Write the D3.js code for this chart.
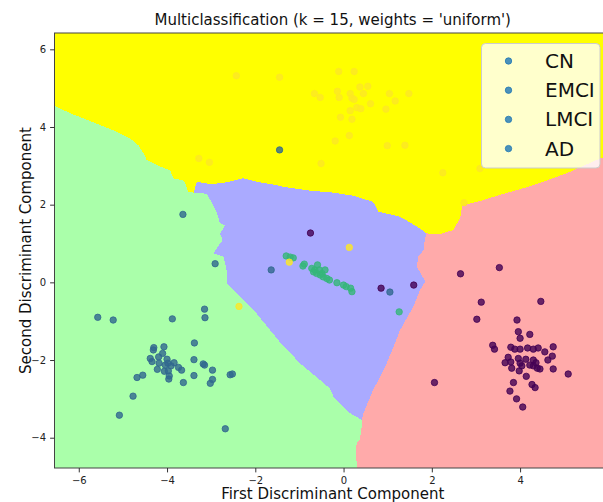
<!DOCTYPE html>
<html>
<head>
<meta charset="utf-8">
<script src="https://cdn.jsdelivr.net/npm/d3@7"></script>
<style>
  html, body { margin: 0; padding: 0; background: #fff; }
  svg { display: block; font-family: "DejaVu Sans", sans-serif; }
  .tick text { font-size: 10px; fill: #222; }
  .tick line { stroke: #333; }
</style>
</head>
<body>
<div id="chart"></div>
<script>
// ── data (discriminant space)
const classes = ['CN', 'EMCI', 'LMCI', 'AD'];
const xTicks = [-6, -4, -2, 0, 2, 4];
const yTicks = [-4, -2, 0, 2, 4, 6];

const cnPoints = [
  [-0.75,1.27],[0.85,-0.15],[1.59,-0.07],[2.65,0.22],[3.53,0.38],[3.12,-0.51],[4.47,-0.49],
  [3.02,-0.95],[3.93,-0.97],[3.96,-1.27],[4.22,-1.34],[4.00,-1.44],[3.38,-1.62],[3.42,-1.72],
  [3.79,-1.67],[3.88,-1.72],[4.00,-1.72],[4.17,-1.69],[4.30,-1.72],[4.41,-1.69],[4.56,-1.79],
  [4.75,-1.66],[4.73,-1.90],[4.63,-2.00],[3.73,-1.93],[3.66,-2.07],[3.79,-2.05],[3.96,-1.96],
  [4.00,-2.08],[4.13,-1.98],[4.30,-2.00],[4.36,-2.07],[4.30,-2.15],[4.39,-2.21],[4.45,-2.23],
  [4.22,-2.13],[3.81,-2.21],[3.98,-2.28],[4.04,-2.15],[4.75,-2.23],[5.09,-2.36],[4.14,-2.42],
  [3.85,-2.58],[4.27,-2.63],[4.34,-2.71],[3.77,-2.80],[3.92,-3.00],[4.06,-3.21],[2.06,-2.58]
];
const emciPoints = [
  [-5.57,-0.90],[-5.22,-0.97],[-3.88,-0.94],[-3.15,-0.69],[-3.14,-0.91],[-3.38,-1.56],
  [-4.30,-1.68],[-4.07,-1.66],[-4.31,-1.74],[-4.10,-1.83],[-4.19,-1.92],[-4.38,-1.96],
  [-4.34,-2.04],[-4.00,-1.98],[-3.98,-2.08],[-3.84,-2.07],[-3.74,-2.19],[-3.67,-2.26],
  [-4.22,-2.24],[-4.06,-2.29],[-3.97,-2.28],[-3.95,-2.41],[-3.96,-2.49],[-4.55,-2.39],
  [-4.68,-2.45],[-3.63,-2.58],[-3.39,-1.99],[-3.18,-2.10],[-3.15,-2.13],[-2.97,-2.26],
  [-3.39,-2.40],[-2.97,-2.50],[-3.02,-2.60],[-2.57,-2.38],[-2.52,-2.36],[-4.77,-2.93],
  [-5.08,-3.42],[-2.68,-3.77],[-4.04,-2.13],[-3.91,-2.15],[-4.18,-2.08],
  [-3.64,1.75],[-2.91,0.48],[-1.45,3.41],[-1.64,0.32],[1.05,-0.25]
];
const lmciPoints = [
  [-1.30,0.68],[-1.21,0.65],[-1.14,0.63],[-0.92,0.42],[-0.89,0.47],[-0.72,0.36],[-0.59,0.45],
  [-0.68,0.27],[-0.61,0.23],[-0.49,0.23],[-0.42,0.32],[-0.53,0.19],[-0.46,0.14],[-0.38,0.10],
  [-0.32,0.06],[-0.15,-0.01],[0.00,-0.07],[0.06,-0.11],[0.16,-0.15],[0.19,-0.24],[-0.65,0.32],
  [-0.55,0.32],[1.26,-0.76]
];
const adPoints = [
  [-2.37,-0.62],[0.13,0.90],[-1.23,0.52],[-0.51,3.06],[2.25,2.82],[3.09,2.93],[2.73,2.05],
  [-2.43,5.32],[-1.45,5.28],[-0.11,5.43],[0.24,5.43],[-0.66,4.86],[-0.53,4.76],[-0.14,4.92],
  [-0.10,4.76],[0.15,4.86],[0.19,4.74],[0.24,4.71],[0.37,5.03],[0.45,4.86],[0.55,5.05],
  [1.04,4.86],[1.48,4.86],[1.17,4.67],[0.61,4.60],[0.15,4.42],[0.30,4.50],[0.39,4.47],
  [0.96,4.46],[-0.07,4.25],[0.19,4.20],[0.13,3.78],[-0.19,3.64],[0.99,3.52],[1.39,3.53],
  [-3.28,3.19],[-3.04,3.09]
];

// decision-region boundaries (kNN, k = 15), in data coordinates
const yellowGreenEdge = [
  [-6.76,4.54],[-6.53,4.54],[-6.19,4.35],[-5.89,4.22],[-5.52,4.05],[-5.14,3.88],[-4.84,3.71],
  [-4.65,3.53],[-4.53,3.32],[-4.46,3.15],[-4.16,2.98],[-3.93,2.89],[-3.86,2.68],[-3.63,2.62],
  [-3.59,2.55],[-3.52,2.33],[-3.40,2.31]
];
const yellowBlueEdge = [
  [-3.40,2.31],[-3.32,2.59],[-3.02,2.53],[-2.72,2.56],[-2.27,2.68],[-1.97,2.59],[-1.51,2.50],
  [-1.36,2.46],[-0.76,2.36],[-0.23,2.31],[0.22,2.23],[0.67,2.07],[0.79,1.82],[1.28,1.69],
  [1.73,1.39],[1.88,1.26]
];
const yellowPinkEdge = [
  [1.88,1.26],[2.19,1.24],[2.49,1.35],[2.64,1.65],[2.69,1.99],[3.02,2.07],[3.54,2.25],
  [4.30,2.50],[5.06,2.81],[5.81,3.19],[6.26,3.35],[7.00,3.60]
];
const bluePinkEdge = [
  [1.88,1.26],[1.84,1.09],[1.81,0.83],[1.69,0.66],[1.66,0.40],[1.77,0.19],[1.85,0.02],
  [1.73,-0.20],[1.58,-0.63],[1.43,-0.93],[1.28,-1.23],[1.13,-1.66],[0.98,-2.08],[0.83,-2.43],
  [0.67,-2.77],[0.56,-3.07],[0.45,-3.37],[0.41,-3.54]
];
const greenPinkEdge = [
  [0.41,-3.54],[0.41,-3.72],[0.37,-4.06],[0.30,-4.14],[0.28,-4.32],[0.30,-4.75],[0.30,-5.20]
];
const greenBlueEdge = [
  [-3.40,2.31],[-3.10,2.28],[-3.02,2.12],[-2.87,1.78],[-2.80,1.52],[-2.68,1.47],[-2.80,1.26],
  [-2.74,1.09],[-2.87,0.88],[-2.95,0.75],[-2.72,0.66],[-2.65,0.32],[-2.65,-0.03],[-2.42,-0.28],
  [-2.19,-0.54],[-1.97,-0.80],[-1.85,-0.97],[-1.44,-1.54],[-0.99,-2.08],[-0.31,-2.73],
  [-0.23,-2.94],[0.15,-3.37],[0.41,-3.54]
];

// ── layout
const W = 603, H = 502;
const plot = { left: 54.5, right: 611, top: 33, bottom: 468 };

const x = d3.scaleLinear().domain([-6.55, 6.06]).range([plot.left, plot.right]);
const y = d3.scaleLinear().domain([-4.78, 6.42]).range([plot.bottom, plot.top]);

const svg = d3.select('#chart').append('svg')
  .attr('width', W).attr('height', H).attr('viewBox', `0 0 ${W} ${H}`);

svg.append('defs').append('clipPath').attr('id', 'plot-clip')
  .append('rect')
  .attr('x', plot.left).attr('y', plot.top)
  .attr('width', plot.right - plot.left).attr('height', plot.bottom - plot.top);

const area = svg.append('g').attr('clip-path', 'url(#plot-clip)');

// regions
const line = d3.line().x(d => x(d[0])).y(d => y(d[1]));
const rev = a => a.slice().reverse();

const yellowPoly = [[-7, 7], [7, 7], ...rev(yellowPinkEdge), ...rev(yellowBlueEdge).slice(1),
  ...rev(yellowGreenEdge).slice(1), [-7, 4.55]];
const greenPoly = [[-7, 4.55], ...yellowGreenEdge, ...greenBlueEdge.slice(1),
  ...greenPinkEdge.slice(1), [-7, -5.2]];
const bluePoly = [...yellowBlueEdge, ...bluePinkEdge.slice(1), ...rev(greenBlueEdge).slice(1, -1)];

area.append('rect')
  .attr('x', plot.left).attr('y', plot.top)
  .attr('width', plot.right - plot.left).attr('height', plot.bottom - plot.top)
  .attr('fill', '#FFAAAA');

const regions = [
  { poly: bluePoly,   color: '#AAAAFF' },
  { poly: greenPoly,  color: '#AAFFAA' },
  { poly: yellowPoly, color: '#FFFF00' },
];
area.selectAll('path.region').data(regions).join('path')
  .attr('class', 'region')
  .attr('d', d => line(d.poly) + 'Z')
  .attr('fill', d => d.color)
  .attr('shape-rendering', 'crispEdges');

// points
const pointColor = { CN: '#440154', EMCI: '#31688e', LMCI: '#35b779', AD: '#fde725' };
const series = [
  { label: 'CN', pts: cnPoints },
  { label: 'EMCI', pts: emciPoints },
  { label: 'LMCI', pts: lmciPoints },
  { label: 'AD', pts: adPoints },
];
series.forEach(s => {
  area.append('g').selectAll('circle').data(s.pts).join('circle')
    .attr('cx', d => x(d[0])).attr('cy', d => y(d[1]))
    .attr('r', 3.2)
    .attr('fill', pointColor[s.label]).attr('fill-opacity', 0.8)
    .attr('stroke', pointColor[s.label]).attr('stroke-opacity', 0.8)
    .attr('stroke-width', 1);
});

// frame
svg.append('rect')
  .attr('x', plot.left).attr('y', plot.top)
  .attr('width', plot.right - plot.left).attr('height', plot.bottom - plot.top)
  .attr('fill', 'none').attr('stroke', '#444').attr('stroke-width', 1);

// axes
const xAxis = svg.append('g').attr('transform', `translate(0,${plot.bottom})`)
  .call(d3.axisBottom(x).tickValues(xTicks).tickSize(4.4).tickPadding(4));
const yAxis = svg.append('g').attr('transform', `translate(${plot.left},0)`)
  .call(d3.axisLeft(y).tickValues(yTicks).tickSize(4.4).tickPadding(4));
[xAxis, yAxis].forEach(a => {
  a.select('.domain').remove();
  a.selectAll('text').attr('font-family', '"DejaVu Sans", sans-serif');
});

// titles
svg.append('text')
  .attr('x', (plot.left + plot.right) / 2).attr('y', 25)
  .attr('text-anchor', 'middle').attr('font-size', 15).attr('fill', '#111')
  .text("Multiclassification (k = 15, weights = 'uniform')");

svg.append('text')
  .attr('x', (plot.left + plot.right) / 2).attr('y', 498.5)
  .attr('text-anchor', 'middle').attr('font-size', 15).attr('fill', '#111')
  .text('First Discriminant Component');

svg.append('text')
  .attr('transform', `translate(31,${(plot.top + plot.bottom) / 2}) rotate(-90)`)
  .attr('text-anchor', 'middle').attr('font-size', 15).attr('fill', '#111')
  .text('Second Discriminant Component');

// legend (all handles share the default colour, as in the source figure)
const lg = svg.append('g').attr('transform', 'translate(481.5,43.5)');
lg.append('rect')
  .attr('width', 118.5).attr('height', 124.5).attr('rx', 4)
  .attr('fill', '#fff').attr('fill-opacity', 0.8)
  .attr('stroke', '#ccc').attr('stroke-width', 1);
const rows = lg.selectAll('g.row').data(classes).join('g')
  .attr('class', 'row')
  .attr('transform', (d, i) => `translate(0,${17.5 + i * 29.2})`);
rows.append('circle')
  .attr('cx', 27).attr('cy', 0).attr('r', 3.2)
  .attr('fill', '#1f77b4').attr('fill-opacity', 0.8)
  .attr('stroke', '#1f77b4').attr('stroke-opacity', 0.8).attr('stroke-width', 1);
rows.append('text')
  .attr('x', 63.5).attr('y', 7).attr('font-size', 20).attr('fill', '#111')
  .text(d => d);
</script>
</body>
</html>
